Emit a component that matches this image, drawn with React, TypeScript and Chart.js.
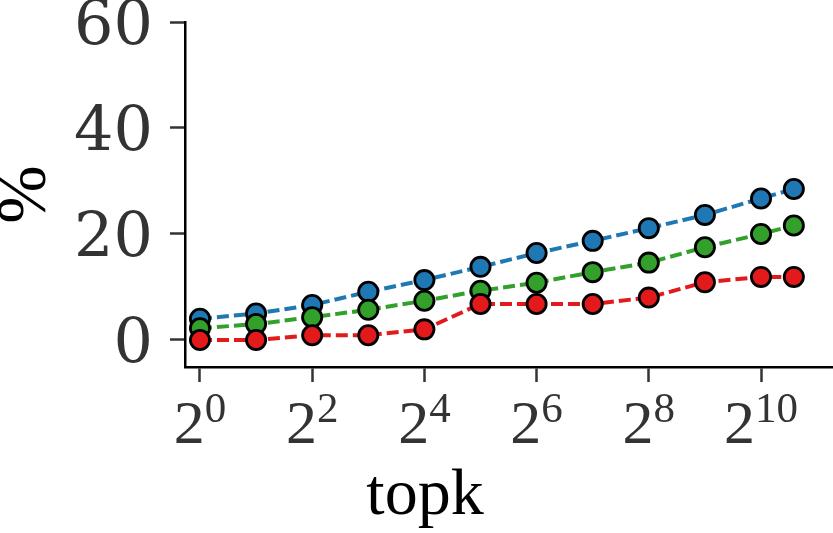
import React, { useEffect, useRef } from "react";
import { Chart, registerables } from "chart.js";

Chart.register(...registerables);

const topk = [1, 2, 4, 8, 16, 32, 64, 128, 256, 512, 1024, 1536];
const seriesBlue = [4.0, 5.0, 6.6, 9.1, 11.3, 13.8, 16.4, 18.7, 21.1, 23.6, 26.7, 28.5];
const seriesGreen = [2.2, 3.0, 4.3, 5.7, 7.4, 9.3, 10.8, 12.8, 14.6, 17.5, 20.0, 21.6];
const seriesRed = [0.0, 0.0, 0.9, 0.9, 2.0, 6.8, 6.8, 6.8, 8.0, 10.9, 11.9, 11.9];
const xTickValues = [1, 4, 16, 64, 256, 1024];
const yTickValues = [0, 20, 40, 60];

const powLabels = {
  id: "powLabels",
  afterDraw(chart: any) {
    const sc = chart.scales.x;
    const ctx = chart.ctx;
    ctx.save();
    ctx.fillStyle = "#333333";
    ctx.textBaseline = "alphabetic";
    ctx.textAlign = "left";
    const baseFont = "62px 'Liberation Serif'";
    const expFont = "43px 'Liberation Serif'";
    const baseY = sc.top + 76;
    for (const t of sc.ticks) {
      const x = sc.getPixelForValue(t.value);
      const exp = String(Math.round(Math.log2(t.value)));
      ctx.font = baseFont;
      const wb = ctx.measureText("2").width;
      ctx.font = expFont;
      const we = ctx.measureText(exp).width;
      const start = x - (wb + we) / 2;
      ctx.font = baseFont;
      ctx.fillText("2", start, baseY);
      ctx.font = expFont;
      ctx.fillText(exp, start + wb, baseY - 21.5);
    }
    ctx.restore();
  },
};

export default function App() {
  const ref = useRef<HTMLCanvasElement | null>(null);
  useEffect(() => {
    if (!ref.current) return;
    const mk = (data: number[], color: string, order: number) => ({
      data: data.map((v, i) => ({ x: topk[i], y: v })),
      borderColor: color,
      backgroundColor: color,
      pointBackgroundColor: color,
      pointBorderColor: "#000000",
      pointBorderWidth: 2.8,
      pointRadius: 9.6,
      borderWidth: 4,
      borderDash: [12, 5],
      tension: 0,
      order,
    });
    const chart = new Chart(ref.current, {
      type: "line",
      data: {
        datasets: [
          mk(seriesBlue, "#1f78b4", 3),
          mk(seriesGreen, "#33a02c", 2),
          mk(seriesRed, "#e31a1c", 1),
        ] as any,
      },
      options: {
        animation: false,
        responsive: false,
        events: [],
        layout: { autoPadding: false, padding: { left: 17, top: 22, right: 0, bottom: 0 } },
        plugins: {
          legend: { display: false },
          tooltip: { enabled: false },
          title: {
            display: true,
            position: "bottom",
            text: "topk",
            color: "#000000",
            font: { family: "'Liberation Serif'", size: 66, weight: "normal", lineHeight: 1.1 },
            padding: { top: 0, bottom: 0 },
          },
        },
        scales: {
          x: {
            type: "logarithmic",
            min: 0.831,
            max: 2492,
            afterBuildTicks: (s: any) => {
              s.ticks = xTickValues.map((v) => ({ value: v }));
            },
            afterFit: (s: any) => {
              s.height = 93.4;
              s.paddingLeft = 0;
              s.paddingRight = 0;
              s.paddingTop = 0;
              s.paddingBottom = 0;
            },
            ticks: { display: false },
            grid: {
              display: true,
              drawOnChartArea: false,
              drawTicks: true,
              tickLength: 15,
              tickColor: "#333333",
              tickWidth: 2.5,
            },
            border: { display: true, color: "#000000", width: 2.5 },
          },
          y: {
            type: "linear",
            min: -5.1,
            max: 60,
            afterBuildTicks: (s: any) => {
              s.ticks = yTickValues.map((v) => ({ value: v }));
            },
            afterFit: (s: any) => {
              s.width = 168;
              s.paddingTop = 0;
              s.paddingBottom = 0;
              s.paddingLeft = 0;
              s.paddingRight = 0;
            },
            ticks: {
              color: "#333333",
              font: { family: "'DejaVu Serif'", size: 62 },
              padding: 17,
              labelOffset: 6,
            },
            grid: {
              display: true,
              drawOnChartArea: false,
              drawTicks: true,
              tickLength: 15,
              tickColor: "#333333",
              tickWidth: 2.5,
            },
            border: { display: true, color: "#000000", width: 2.5 },
            title: {
              display: true,
              text: "%",
              color: "#000000",
              font: { family: "'Liberation Serif'", size: 70, lineHeight: 0.2 },
              padding: { top: 3, bottom: 0 },
            },
          },
        },
      },
      plugins: [powLabels],
    });
    return () => chart.destroy();
  }, []);
  return (
    <div style={{ position: "absolute", left: 0, top: 0, width: 833, height: 533 }}>
      <canvas ref={ref} width={833} height={533} style={{ width: 833, height: 533 }} />
    </div>
  );
}
